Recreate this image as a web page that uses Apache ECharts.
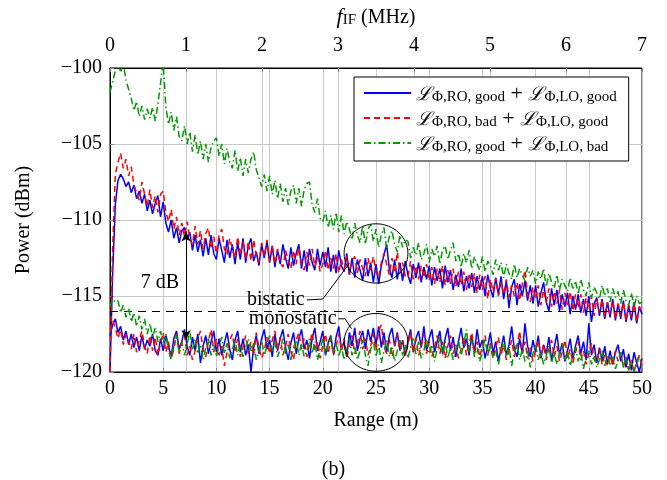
<!DOCTYPE html>
<html><head><meta charset="utf-8">
<script src="https://cdn.jsdelivr.net/npm/echarts@6/dist/echarts.min.js"></script>
<style>html,body{margin:0;padding:0;background:#fff}#c{width:667px;height:480px}</style>
</head><body><div id="c"></div>
<script>
// ---------------- DATA ----------------
const rangeStep = 0.25;           // m between samples, samples start at 0 m
const rangeMin = 0, rangeMax = 50;
const fifMin = 0, fifMax = 7;     // MHz (top axis)
const powerMin = -120, powerMax = -100;

const seriesNames = ['RO good + LO good', 'RO bad + LO good', 'RO good + LO bad'];

// bistatic (upper) curves
const blueBistatic = [
-120,-113.5,-109.0,-107.4, -107.0,-107.3,-107.8,-107.5, -108.2,-107.7,-108.6,-108.1,
-108.9,-108.3,-109.4,-108.7, -109.6,-108.9,-108.4,-109.8, -108.8,-110.2,-110.8,-110.0,
-111.2,-110.5,-111.5,-110.7, -110.5,-111.3,-110.8,-112.0, -111.0,-112.1,-111.3,-112.4,
-111.2,-112.3,-111.0,-112.2, -112.6,-111.2,-112.0,-112.8, -111.3,-112.5,-111.6,-112.9,
-111.5,-112.6,-111.2,-112.8, -111.7,-111.2,-112.7,-112.1, -113.0,-111.6,-112.5,-111.4,
-112.8,-111.7,-113.1,-112.0, -112.9,-111.6,-112.5,-113.2, -111.8,-113.0,-112.2,-111.6,
-113.2,-112.0,-113.4,-111.9, -112.8,-113.3,-111.9,-113.0, -112.1,-113.1,-111.8,-113.4,
-112.3,-113.5,-112.0,-113.0, -113.4,-112.2,-113.6,-112.5, -113.8,-112.6,-113.3,-114.0,
-112.5,-113.7,-112.8,-114.1, -112.9,-114.2,-113.0,-112.3, -111.6,-113.2,-113.8,-112.6,
-113.9,-112.8,-114.0,-112.7, -113.6,-114.2,-112.9,-113.8, -112.8,-114.1,-113.1,-113.9,
-113.0,-114.3,-113.1,-114.0, -113.2,-114.5,-113.0,-114.1, -113.3,-114.6,-113.6,-114.4,
-113.2,-114.7,-113.7,-114.5, -113.5,-114.8,-113.7,-114.6, -113.7,-115.0,-113.6,-114.5,
-115.1,-113.8,-114.9,-113.7, -115.2,-114.0,-115.8,-114.4, -113.9,-115.6,-114.2,-115.0,
-114.0,-115.3,-114.3,-115.5, -114.3,-115.7,-114.8,-114.1, -115.4,-116.0,-114.5,-115.6,
-114.6,-116.0,-114.9,-115.7, -114.8,-116.2,-115.0,-115.9, -114.9,-116.1,-115.2,-116.3,
-115.0,-116.7,-115.5,-115.1, -116.3,-115.2,-116.5,-115.4, -116.4,-115.2,-116.6,-115.5,
-116.5,-115.3,-116.7,-115.6, -116.6,-115.4,-116.8,-115.7, -116.2];

const redBistatic = [
-120,-111.8,-107.0,-106.2, -105.6,-106.6,-106.0,-107.1, -106.5,-107.7,-108.2,-108.7,
-107.5,-108.3,-109.1,-108.0, -109.2,-108.4,-109.5,-108.3, -108.1,-109.5,-110.1,-109.3,
-110.6,-109.8,-111.0,-110.2, -111.1,-110.1,-111.2,-111.6, -110.4,-111.6,-110.7,-111.9,
-110.9,-110.5,-111.9,-111.1, -112.2,-111.0,-110.6,-111.9, -112.3,-111.2,-111.9,-112.5,
-111.1,-112.3,-111.4,-112.6, -111.4,-112.7,-111.3,-112.4, -112.8,-111.5,-112.4,-111.3,
-112.7,-111.7,-112.9,-111.9, -112.8,-113.1,-112.0,-112.7, -113.2,-112.0,-112.9,-111.8,
-112.9,-113.3,-112.1,-113.0, -111.9,-113.1,-112.4,-113.4, -112.9,-112.0,-113.3,-112.5,
-113.2,-112.2,-113.5,-112.6, -113.3,-112.4,-113.6,-112.7, -112.4,-113.5,-112.6,-113.2,
-113.7,-112.5,-113.3,-112.4, -113.4,-113.8,-112.8,-112.2, -112.9,-113.6,-112.5,-113.5,
-112.1,-113.5,-112.8,-113.7, -113.8,-112.7,-113.9,-113.0, -113.9,-113.0,-113.8,-112.9,
-114.0,-113.1,-114.2,-113.2, -114.1,-113.0,-114.3,-113.3, -114.2,-113.2,-114.4,-113.4,
-114.3,-113.4,-114.6,-113.5, -114.4,-113.5,-114.8,-113.6, -114.6,-113.7,-115.2,-113.9,
-114.7,-113.8,-115.0,-114.1, -114.9,-113.9,-115.1,-114.3, -115.0,-114.1,-115.3,-114.2,
-113.3,-114.9,-115.4,-114.4, -115.2,-114.3,-115.6,-114.6, -115.4,-114.5,-115.7,-114.7,
-115.5,-114.6,-115.9,-114.8, -115.6,-114.7,-116.0,-114.9, -115.8,-114.9,-116.1,-115.1,
-115.9,-115.0,-116.3,-115.2, -116.1,-115.2,-116.4,-115.4, -116.2,-115.3,-116.5,-115.5,
-116.3,-115.4,-116.6,-115.6, -116.4,-115.5,-116.7,-115.7, -116.1];

const greenBistatic = [
-101.6,-100.9,-100.2,-99.6, -100.3,-99.7,-100.8,-101.4, -102.0,-102.8,-102.2,-103.2,
-102.5,-103.4,-102.7,-103.3, -102.6,-103.5,-102.4,-101.0, -99.6,-102.6,-103.7,-102.9,
-104.1,-103.2,-104.5,-104.8, -103.8,-105.0,-104.2,-105.5, -104.4,-105.7,-104.8,-106.0,
-105.0,-106.2,-105.2,-104.8, -104.6,-105.8,-105.0,-106.3, -105.3,-106.2,-106.6,-105.4,
-106.8,-105.9,-107.1,-106.0, -106.9,-106.0,-105.5,-106.7, -107.2,-107.8,-107.0,-108.1,
-107.1,-108.3,-107.4,-108.6, -107.6,-108.8,-107.9,-109.0, -108.1,-107.7,-108.9,-107.9,
-109.1,-108.0,-107.6,-107.5, -109.0,-109.5,-108.6,-109.9, -110.1,-109.4,-110.5,-109.7,
-110.6,-109.5,-110.8,-109.7, -110.9,-110.1,-110.6,-111.3, -110.2,-111.0,-111.5,-110.4,
-111.6,-110.6,-110.3,-111.4, -110.6,-111.8,-111.0,-110.5, -111.9,-111.1,-110.7,-111.6,
-112.1,-111.0,-111.8,-111.3, -111.4,-112.5,-111.8,-112.3, -111.5,-112.6,-112.2,-111.6,
-112.8,-111.9,-112.4,-111.7, -112.9,-112.0,-111.7,-112.6, -112.0,-111.5,-112.7,-112.2,
-113.1,-112.2,-112.8,-112.0, -113.2,-112.4,-112.9,-113.3, -112.4,-113.4,-112.7,-113.0,
-113.6,-112.6,-113.3,-112.8, -113.8,-112.9,-113.5,-113.9, -112.9,-113.8,-113.2,-113.6,
-114.0,-113.1,-113.7,-113.3, -114.2,-113.4,-113.9,-113.2, -114.4,-113.5,-114.1,-114.5,
-113.6,-114.6,-113.9,-114.3, -114.7,-113.8,-114.5,-114.0, -114.9,-113.9,-114.6,-115.0,
-114.1,-115.1,-114.4,-114.8, -115.2,-114.3,-115.0,-114.5, -115.4,-114.5,-115.1,-114.7,
-115.5,-114.6,-115.3,-115.6, -114.8,-115.7,-115.0,-115.5, -115.4];

// monostatic (lower) curves
const blueMonostatic = [
-117.6,-116.9,-116.5,-117.4, -117.0,-117.9,-117.3,-118.2, -117.5,-118.4,-117.7,-118.6,
-117.6,-118.5,-117.9,-118.3, -117.5,-118.6,-118.9,-117.8, -118.6,-117.6,-118.3,-119.0,
-117.8,-117.3,-118.5,-118.0, -117.2,-118.3,-118.9,-117.7, -118.6,-117.5,-119.4,-118.3,
-117.6,-118.8,-118.0,-117.3, -118.7,-117.8,-118.9,-118.1, -117.4,-118.5,-119.2,-117.9,
-117.3,-118.7,-117.8,-118.9, -118.2,-120.0,-118.4,-117.6, -118.8,-117.8,-117.2,-118.5,
-117.9,-119.0,-117.5,-118.6, -117.8,-117.2,-118.4,-119.2, -118.1,-117.4,-118.8,-117.8,
-117.2,-118.5,-117.9,-119.1, -117.8,-117.1,-118.6,-118.0, -117.3,-118.9,-118.1,-117.6,
-118.8,-117.7,-117.0,-118.5, -118.0,-119.0,-117.4,-118.3, -117.1,-118.6,-117.8,-117.3,
-118.5,-117.2,-118.0,-117.1, -118.2,-117.0,-118.4,-117.4, -118.7,-117.6,-117.1,-118.3,
-117.4,-118.6,-117.9,-118.9, -118.0,-117.2,-118.7,-117.8, -117.3,-118.4,-117.0,-118.6,
-117.8,-117.2,-118.7,-118.0, -117.3,-118.8,-117.8,-117.1, -118.6,-117.7,-119.0,-118.0,
-117.1,-118.4,-117.8,-118.9, -117.6,-118.7,-117.2,-118.4, -117.9,-119.1,-118.3,-117.4,
-118.8,-118.0,-119.3,-118.5, -117.6,-118.9,-118.2,-117.0, -118.5,-119.0,-117.8,-118.8,
-116.8,-118.3,-119.0,-117.9, -118.7,-117.6,-119.1,-118.2, -118.8,-117.7,-119.2,-118.4,
-117.5,-118.9,-118.1,-119.3, -118.6,-117.8,-119.1,-118.3, -117.6,-118.8,-118.0,-119.2,
-116.8,-118.9,-118.2,-119.4, -118.4,-119.3,-118.3,-119.5, -118.6,-119.5,-118.7,-118.2,
-119.3,-118.5,-119.7,-118.8, -119.9,-118.7,-119.4,-120.0, -119.1];

const redMonostatic = [
-117.2,-116.6,-117.1,-117.8, -117.2,-118.2,-117.5,-118.0, -118.5,-117.5,-118.7,-117.9,
-117.3,-118.3,-118.8,-117.6, -118.6,-117.7,-118.9,-118.1, -117.4,-118.7,-118.0,-119.1,
-118.5,-117.5,-118.8,-118.0, -117.6,-118.9,-118.3,-119.2, -118.6,-117.8,-117.3,-118.5,
-119.0,-118.0,-117.2,-118.7, -117.8,-118.9,-118.3,-119.6, -118.7,-117.9,-117.5,-118.6,
-117.8,-119.0,-118.4,-117.6, -118.8,-118.0,-118.9,-117.4, -118.4,-119.1,-118.6,-117.7,
-118.8,-117.9,-117.3,-118.5, -117.7,-118.9,-118.3,-117.5, -118.6,-119.2,-117.9,-117.4,
-118.5,-117.8,-119.0,-118.2, -117.4,-118.6,-118.0,-119.1, -118.3,-117.5,-118.8,-117.8,
-118.9,-118.3,-117.5,-118.6, -117.8,-119.0,-118.4,-117.6, -118.8,-118.1,-117.3,-118.5,
-117.8,-118.9,-118.3,-117.5, -118.6,-117.3,-116.9,-118.3, -118.8,-117.8,-119.0,-118.3,
-117.5,-118.6,-117.9,-118.9, -118.2,-117.4,-118.7,-117.8, -118.9,-118.3,-117.5,-118.8,
-118.0,-119.0,-118.4,-117.6, -118.8,-118.0,-119.1,-118.3, -117.6,-118.8,-118.2,-119.1,
-118.5,-117.7,-118.9,-118.2, -117.4,-118.8,-118.0,-119.0, -118.3,-117.6,-118.9,-118.1,
-119.1,-118.4,-117.7,-118.9, -118.2,-119.2,-118.6,-117.9, -119.0,-118.3,-117.3,-118.8,
-118.0,-119.1,-118.4,-119.3, -118.6,-117.9,-119.0,-118.2, -119.2,-118.5,-117.9,-119.0,
-118.3,-119.3,-118.7,-117.9, -119.1,-118.5,-119.4,-118.7, -118.0,-119.2,-118.6,-119.5,
-118.8,-118.1,-119.2,-119.4, -118.5,-119.5,-118.9,-119.6, -118.9,-119.6,-118.6,-119.3,
-118.7,-119.7,-119.0,-119.9, -119.2,-120.0,-119.3,-118.9, -119.6];

const greenMonostatic = [
-115.7,-115.2,-115.4,-115.3, -116.1,-115.6,-116.4,-115.8, -116.7,-116.1,-117.0,-116.3,
-117.2,-116.5,-117.5,-116.8, -117.7,-117.1,-118.0,-117.3, -118.1,-117.5,-118.6,-119.2,
-118.3,-117.6,-118.7,-118.0, -118.9,-118.2,-117.3,-118.5, -117.8,-118.8,-118.2,-119.2,
-118.4,-117.8,-118.9,-118.2, -119.0,-118.3,-117.7,-118.8, -118.1,-119.1,-118.5,-117.9,
-118.9,-118.2,-119.0,-118.4, -117.8,-118.7,-118.1,-119.2, -118.6,-117.9,-118.9,-118.3,
-117.6,-118.6,-118.0,-119.0, -118.5,-117.8,-118.8,-118.2, -119.2,-118.4,-117.9,-118.9,
-118.1,-119.0,-118.6,-117.8, -118.8,-118.0,-119.2,-118.5, -117.8,-118.9,-118.2,-117.6,
-118.7,-118.1,-119.0,-118.3, -119.2,-118.5,-117.8,-118.9, -118.3,-119.2,-118.6,-117.9,
-118.9,-119.6,-118.5,-118.0, -119.0,-118.2,-119.4,-118.6, -117.9,-119.0,-118.3,-119.3,
-118.6,-117.9,-118.9,-118.2, -119.1,-118.4,-117.8,-118.8, -118.0,-119.1,-118.6,-117.8,
-118.8,-118.2,-119.3,-118.5, -117.7,-118.9,-118.0,-119.1, -118.4,-119.2,-118.6,-117.9,
-118.9,-118.2,-117.2,-118.7, -117.9,-119.0,-118.4,-119.3, -118.6,-117.8,-118.9,-118.2,
-119.1,-118.6,-119.5,-118.7, -117.9,-119.0,-118.3,-119.6, -118.7,-118.1,-119.2,-118.5,
-119.3,-118.6,-119.7,-118.8, -118.2,-119.2,-118.7,-119.5, -118.9,-118.3,-119.4,-118.7,
-119.5,-118.8,-118.1,-119.2, -118.6,-119.6,-119.0,-118.4, -119.3,-118.7,-119.8,-119.0,
-118.6,-119.5,-118.9,-119.7, -119.2,-118.6,-119.6,-118.9, -119.6,-119.0,-119.8,-119.2,
-118.7,-119.7,-119.1,-119.9, -119.3,-120.0,-119.5,-119.0, -119.7];

// annotations (data coordinates)
const separationLevel = -116;           // dashed line between bistatic / monostatic
const arrowRange = 7.15, arrowTop = -110.75, arrowBottom = -117.9;
const arrowLabel = '7 dB';
// ---------------------------------------

const SERIF = '"Liberation Serif", "DejaVu Serif", serif';
const toXY = arr => arr.map((v, i) => [rangeMin + i * rangeStep, v]);
const fmtMinus = v => String(v).replace('-', '\u2212');

const legendRich = {
  L: {fontFamily: '"DejaVu Serif", serif', fontStyle: 'italic', fontSize: 19, color: '#000', verticalAlign: 'bottom', lineHeight: 24},
  s: {fontFamily: SERIF, fontSize: 15, color: '#000', verticalAlign: 'bottom', lineHeight: 13},
  p: {fontFamily: SERIF, fontSize: 22, color: '#000', verticalAlign: 'bottom', lineHeight: 24}
};
const legendLabels = {
  [seriesNames[0]]: '{L|\u2112}{s|\u03A6,RO, good}{p| + }{L|\u2112}{s|\u03A6,LO, good}',
  [seriesNames[1]]: '{L|\u2112}{s|\u03A6,RO, bad}{p| + }{L|\u2112}{s|\u03A6,LO, good}',
  [seriesNames[2]]: '{L|\u2112}{s|\u03A6,RO, good}{p| + }{L|\u2112}{s|\u03A6,LO, bad}'
};

const colors = ['#0000ff', '#ff0000', '#009900'];
const dashes = ['solid', [6, 4], [7, 3, 1.5, 3]];

function mkSeries(idx, data, z) {
  return {
    name: seriesNames[idx], type: 'line', data: toXY(data), symbol: 'none',
    xAxisIndex: 0, yAxisIndex: 0, z: z, animation: false, clip: true,
    lineStyle: {color: colors[idx], width: 1.5, type: dashes[idx]},
    itemStyle: {color: colors[idx]}
  };
}

const chart = echarts.init(document.getElementById('c'), null, {renderer: 'canvas'});
const option = {
  animation: false,
  backgroundColor: '#fff',
  textStyle: {fontFamily: SERIF, color: '#000'},
  grid: {left: 110, right: 25, top: 68, bottom: 108, show: true, borderColor: '#000', borderWidth: 1, backgroundColor: 'transparent'},
  title: {text: '(b)', left: 'center', top: 455, textStyle: {fontFamily: SERIF, fontSize: 20, fontWeight: 'normal', color: '#000'}},
  legend: {
    data: seriesNames, orient: 'vertical', left: 354, top: 77,
    backgroundColor: '#fff', borderColor: '#000', borderWidth: 1, borderRadius: 0,
    padding: [6, 12, 6, 9], itemGap: 3, itemWidth: 47, itemHeight: 14,
    itemStyle: {opacity: 0},
    selectedMode: false,
    formatter: n => legendLabels[n],
    textStyle: {fontFamily: SERIF, fontSize: 20, color: '#000', rich: legendRich}
  },
  xAxis: [{
    type: 'value', position: 'bottom', min: rangeMin, max: rangeMax, interval: 5,
    name: 'Range (m)', nameLocation: 'middle', nameGap: 39,
    nameTextStyle: {fontFamily: SERIF, fontSize: 20, color: '#000'},
    axisLine: {show: true, lineStyle: {color: '#000', width: 1}},
    axisTick: {show: true, inside: true, length: 4, lineStyle: {color: '#888'}},
    axisLabel: {fontFamily: SERIF, fontSize: 20, color: '#000', margin: 7},
    splitLine: {show: true, lineStyle: {color: '#c8c8c8', width: 1}}
  }, {
    type: 'value', position: 'top', min: fifMin, max: fifMax, interval: 1,
    name: '{f|f}{s|IF}{p| (MHz)}', nameLocation: 'middle', nameGap: 40,
    nameTextStyle: {rich: {
      f: {fontFamily: SERIF, fontStyle: 'italic', fontSize: 22, color: '#000', verticalAlign: 'bottom', lineHeight: 24},
      s: {fontFamily: SERIF, fontSize: 15, color: '#000', verticalAlign: 'bottom', lineHeight: 14},
      p: {fontFamily: SERIF, fontSize: 20, color: '#000', verticalAlign: 'bottom', lineHeight: 24}
    }},
    axisLine: {show: true, lineStyle: {color: '#000', width: 1}},
    axisTick: {show: true, inside: true, length: 4, lineStyle: {color: '#888'}},
    axisLabel: {fontFamily: SERIF, fontSize: 20, color: '#000', margin: 12},
    splitLine: {show: true, lineStyle: {color: '#c8c8c8', width: 1}}
  }],
  yAxis: [{
    type: 'value', min: powerMin, max: powerMax, interval: 5,
    name: 'Power (dBm)', nameLocation: 'middle', nameGap: 76, nameRotate: 90,
    nameTextStyle: {fontFamily: SERIF, fontSize: 20, color: '#000'},
    axisLine: {show: true, lineStyle: {color: '#000', width: 1}},
    axisTick: {show: true, inside: true, length: 4, lineStyle: {color: '#888'}},
    axisLabel: {fontFamily: SERIF, fontSize: 20, color: '#000', margin: 8, formatter: fmtMinus},
    splitLine: {show: true, lineStyle: {color: '#c8c8c8', width: 1}}
  }],
  series: [
    mkSeries(0, blueBistatic, 3),
    mkSeries(1, redBistatic, 4),
    mkSeries(2, greenBistatic, 5),
    mkSeries(0, blueMonostatic, 3),
    mkSeries(1, redMonostatic, 4),
    mkSeries(2, greenMonostatic, 5),
    {
      name: 'annotations', type: 'line', data: [], xAxisIndex: 0, yAxisIndex: 0, z: 6,
      markLine: {
        silent: true, animation: false, label: {show: false},
        data: [
          [{coord: [rangeMin, separationLevel], symbol: 'none', lineStyle: {color: '#000', width: 1, type: [8, 6]}},
           {coord: [rangeMax, separationLevel], symbol: 'none'}],
          [{coord: [arrowRange, arrowTop], symbol: 'arrow', symbolSize: [7, 10], lineStyle: {color: '#000', width: 1, type: 'solid'}},
           {coord: [arrowRange, arrowBottom], symbol: 'arrow', symbolSize: [7, 10]}]
        ]
      }
    }
  ]
};
chart.setOption(option);

// text / shape annotations, placed through the axis scales
const px = (x, y) => chart.convertToPixel({xAxisIndex: 0, yAxisIndex: 0}, [x, y]);
const ann = {
  arrowText: [4.7, -114.1],
  bistaticText: [18.3, -115.26], monostaticText: [21.3, -116.5],
  bistaticLeader: [[18.5, -115.26], [20.0, -115.2], [22.5, -112.85]],
  monostaticLeader: [[21.45, -116.5], [22.1, -116.5], [22.7, -117.15]],
  circleUpper: {c: [25, -112.2], rx: 3.0, ry: 1.95},
  circleLower: {c: [25, -118.05], rx: 3.0, ry: 1.9}
};
function ellipse(e) {
  const c = px(e.c[0], e.c[1]);
  const r = px(e.c[0] + e.rx, e.c[1] + e.ry);
  return {type: 'ellipse', shape: {cx: c[0], cy: c[1], rx: Math.abs(r[0] - c[0]), ry: Math.abs(r[1] - c[1])},
    style: {fill: 'none', stroke: '#000', lineWidth: 1}, z: 100, silent: true};
}
function poly(pts) {
  return {type: 'polyline', shape: {points: pts.map(p => px(p[0], p[1]))},
    style: {fill: 'none', stroke: '#000', lineWidth: 1}, z: 100, silent: true};
}
function txt(p, s, align) {
  const q = px(p[0], p[1]);
  return {type: 'text', x: q[0], y: q[1], z: 101, silent: true,
    style: {text: s, fill: '#000', font: '20px ' + SERIF, align: align, verticalAlign: 'middle'}};
}
chart.setOption({graphic: [
  ellipse(ann.circleUpper), ellipse(ann.circleLower),
  poly(ann.bistaticLeader), poly(ann.monostaticLeader),
  txt(ann.arrowText, arrowLabel, 'center'),
  txt(ann.bistaticText, 'bistatic', 'right'),
  txt(ann.monostaticText, 'monostatic', 'right')
]});
</script></body></html>
